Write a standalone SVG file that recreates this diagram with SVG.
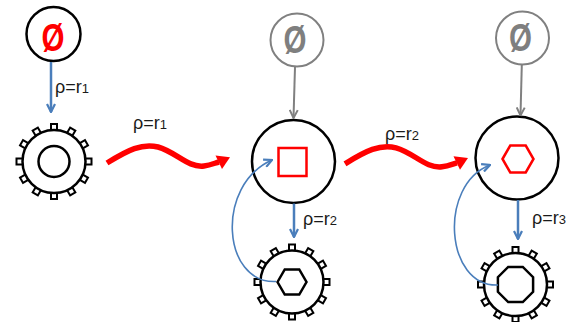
<svg xmlns="http://www.w3.org/2000/svg" xmlns:xlink="http://www.w3.org/1999/xlink" width="574" height="322" viewBox="0 0 574 322">
<style>
.ring{fill:#fff;stroke:#000;stroke-width:2.5}
.tooth{fill:#fff;stroke:#000;stroke-width:2}
.inner{fill:none;stroke:#000;stroke-width:2.5}
.state{fill:#fff;stroke:#000;stroke-width:2.5}
.redshape{fill:none;stroke:#f00;stroke-width:2.5}
.empty-red{fill:#fff;stroke:#000;stroke-width:2.5}
.empty-gray{fill:#fff;stroke:#808080;stroke-width:2}
.phi{font-family:"Liberation Sans",Arial,sans-serif;font-weight:bold;font-size:36px;text-anchor:middle}
.lbl{font-family:"Liberation Sans",Arial,sans-serif;font-size:18px;fill:#1a1a1a}
.sub{font-size:13px}
.blue{fill:none;stroke:#4a7ebb;stroke-width:2.5}
.bluecurve{fill:none;stroke:#4a7ebb;stroke-width:1.6}
.gray{fill:none;stroke:#808080;stroke-width:2}
.red{fill:none;stroke:#f00;stroke-width:5.5;stroke-linecap:butt}
.redhead{fill:#f00}
</style>
<defs>
<marker id="mBlue" viewBox="0 0 10 10" refX="9" refY="5" markerWidth="10" markerHeight="10" markerUnits="userSpaceOnUse" orient="auto">
<path d="M1,1 L9,5 L1,9" fill="none" stroke="#4a7ebb" stroke-width="2.2"/>
</marker>
<marker id="mGray" viewBox="0 0 10 10" refX="9" refY="5" markerWidth="10" markerHeight="10" markerUnits="userSpaceOnUse" orient="auto">
<path d="M1,1 L9,5 L1,9" fill="none" stroke="#808080" stroke-width="2"/>
</marker>
<g id="gearBody">
<rect class="tooth" x="-3" y="-37.5" width="6" height="6.5" transform="rotate(0)"/>
<rect class="tooth" x="-3" y="-37.5" width="6" height="6.5" transform="rotate(30)"/>
<rect class="tooth" x="-3" y="-37.5" width="6" height="6.5" transform="rotate(60)"/>
<rect class="tooth" x="-3" y="-37.5" width="6" height="6.5" transform="rotate(90)"/>
<rect class="tooth" x="-3" y="-37.5" width="6" height="6.5" transform="rotate(120)"/>
<rect class="tooth" x="-3" y="-37.5" width="6" height="6.5" transform="rotate(150)"/>
<rect class="tooth" x="-3" y="-37.5" width="6" height="6.5" transform="rotate(180)"/>
<rect class="tooth" x="-3" y="-37.5" width="6" height="6.5" transform="rotate(210)"/>
<rect class="tooth" x="-3" y="-37.5" width="6" height="6.5" transform="rotate(240)"/>
<rect class="tooth" x="-3" y="-37.5" width="6" height="6.5" transform="rotate(270)"/>
<rect class="tooth" x="-3" y="-37.5" width="6" height="6.5" transform="rotate(300)"/>
<rect class="tooth" x="-3" y="-37.5" width="6" height="6.5" transform="rotate(330)"/>
<circle class="ring" r="31.5"/>
</g>
<g id="redArrow">
<path class="red" d="M107,163 C128,150 142,143 158,147 C176,152 188,168 204,166 C211,165 215,163 219,162"/>
<polygon class="redhead" points="230,157.3 215.5,155.5 222,169"/>
</g>
</defs>

<g id="empty1">
<circle class="empty-red" cx="53.5" cy="34" r="27"/>
<text class="phi" transform="translate(53,50.5) scale(0.82,1.08)" fill="#f00">Ø</text>
</g>
<g id="empty2">
<circle class="empty-gray" cx="297" cy="40" r="26.5"/>
<text class="phi" transform="translate(295,52.5) scale(0.82,1.08)" fill="#7f7f7f">Ø</text>
</g>
<g id="empty3">
<circle class="empty-gray" cx="522.5" cy="38" r="26.5"/>
<text class="phi" transform="translate(520.5,50.5) scale(0.82,1.08)" fill="#7f7f7f">Ø</text>
</g>

<g id="gear1" transform="translate(54,161.5)">
<use xlink:href="#gearBody" href="#gearBody"/>
<circle class="inner" r="15.5"/>
</g>
<g id="state2">
<circle class="state" cx="293.5" cy="161.5" r="41.5"/>
<rect class="redshape" x="278.5" y="148" width="28" height="28"/>
</g>
<g id="gear2" transform="translate(292,282)">
<use xlink:href="#gearBody" href="#gearBody"/>
<polygon class="inner" points="-14.5,0 -7.25,-12.6 7.25,-12.6 14.5,0 7.25,12.6 -7.25,12.6"/>
</g>
<g id="state3">
<circle class="state" cx="517" cy="158" r="41.5"/>
<polygon class="redshape" points="502.5,159 510.25,145.6 525.75,145.6 533.5,159 525.75,172.4 510.25,172.4"/>
</g>
<g id="gear3" transform="translate(515.5,284.5)">
<use xlink:href="#gearBody" href="#gearBody"/>
<polygon class="inner" points="-7.3,-17.6 7.3,-17.6 17.6,-7.3 17.6,7.3 7.3,17.6 -7.3,17.6 -17.6,7.3 -17.6,-7.3"/>
</g>

<g id="connectors">
<path class="blue" d="M51,62 L51,112" marker-end="url(#mBlue)"/>
<path class="gray" d="M295,67 L293.5,118" marker-end="url(#mGray)"/>
<path class="gray" d="M521.8,65 L520.5,115.5" marker-end="url(#mGray)"/>
<path class="blue" d="M294,203.5 L294,237" marker-end="url(#mBlue)"/>
<path class="blue" d="M518,200 L518,239" marker-end="url(#mBlue)"/>
<path class="bluecurve" d="M276,281.5 C222,284 215,185 272,160" marker-end="url(#mBlue)"/>
<path class="bluecurve" d="M498,285 C445,287 438,185 490,165" marker-end="url(#mBlue)"/>
<use xlink:href="#redArrow" href="#redArrow"/>
<use xlink:href="#redArrow" href="#redArrow" transform="translate(238,0.8)"/>
</g>

<g id="labels">
<text class="lbl" x="55" y="92.5">ρ=r<tspan class="sub">1</tspan></text>
<text class="lbl" x="133" y="129">ρ=r<tspan class="sub">1</tspan></text>
<text class="lbl" x="385" y="139.5">ρ=r<tspan class="sub">2</tspan></text>
<text class="lbl" x="303" y="225">ρ=r<tspan class="sub">2</tspan></text>
<text class="lbl" x="532" y="224">ρ=r<tspan class="sub">3</tspan></text>
</g>
</svg>
